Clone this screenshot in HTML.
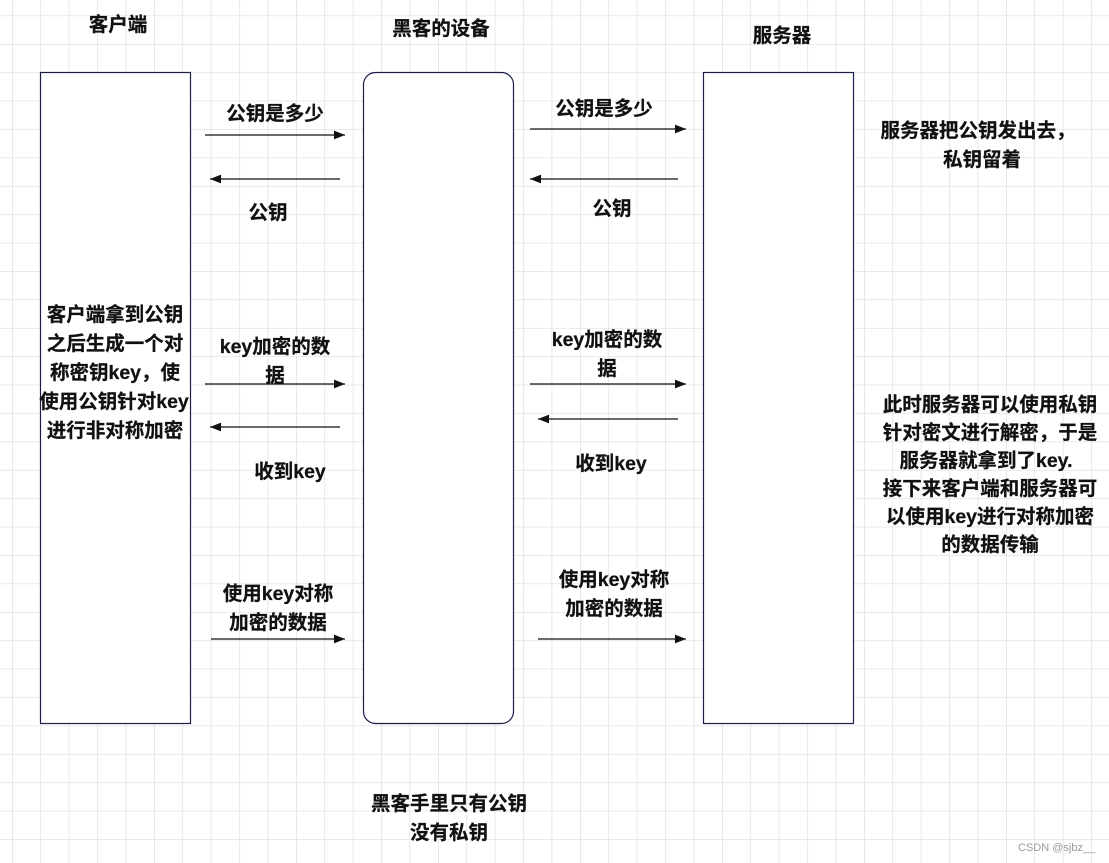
<!DOCTYPE html>
<html><head><meta charset="utf-8"><style>
html,body{margin:0;padding:0;width:1109px;height:863px;overflow:hidden;background:#fff}
svg{display:block}
text{font-family:"Liberation Sans","Noto Sans CJK SC",sans-serif;font-weight:bold;font-size:19.5px;fill:#111;stroke:#111;stroke-width:0.25}
</style></head><body>
<svg width="1109" height="863" xmlns="http://www.w3.org/2000/svg">
<defs>
<pattern id="g" x="12" y="15.5" width="28.4" height="28.4" patternUnits="userSpaceOnUse">
<path d="M0 0H28.4M0 0V28.4" stroke="#dcdcdc" stroke-width="1.3" fill="none"/>
</pattern>
<marker id="a" viewBox="0 0 10 10" refX="10" refY="5" markerWidth="11" markerHeight="11" markerUnits="userSpaceOnUse" orient="auto"><path d="M0 1L10 5L0 9z" fill="#111"/></marker>
</defs>
<rect width="1109" height="863" fill="url(#g)"/>
<rect x="40.5" y="72.5" width="150" height="651" fill="#fff" stroke="#1a1f4a" stroke-width="1.2"/>
<rect x="363.5" y="72.5" width="150" height="651" rx="12" fill="#fff" stroke="#1a1f4a" stroke-width="1.2"/>
<rect x="703.5" y="72.5" width="150" height="651" fill="#fff" stroke="#1a1f4a" stroke-width="1.2"/>
<g stroke="#111" stroke-width="1.2" marker-end="url(#a)">
<line x1="205" y1="135" x2="345" y2="135"/>
<line x1="340" y1="179" x2="210" y2="179"/>
<line x1="205" y1="384" x2="345" y2="384"/>
<line x1="340" y1="427" x2="210" y2="427"/>
<line x1="211" y1="639" x2="345" y2="639"/>
<line x1="530" y1="129" x2="686" y2="129"/>
<line x1="678" y1="179" x2="530" y2="179"/>
<line x1="530" y1="384" x2="686" y2="384"/>
<line x1="678" y1="419" x2="538" y2="419"/>
<line x1="538" y1="639" x2="686" y2="639"/>
</g>
<g text-anchor="middle">
<text x="118" y="31">客户端</text>
<text x="441" y="35">黑客的设备</text>
<text x="782" y="42">服务器</text>
<text x="275" y="120">公钥是多少</text>
<text x="268" y="219">公钥</text>
<text x="275" y="353">key加密的数</text>
<text x="275" y="382">据</text>
<text x="290" y="478">收到key</text>
<text x="278" y="600">使用key对称</text>
<text x="278" y="629">加密的数据</text>
<text x="604" y="115">公钥是多少</text>
<text x="612" y="215">公钥</text>
<text x="607" y="346">key加密的数</text>
<text x="607" y="375">据</text>
<text x="611" y="470">收到key</text>
<text x="614" y="586">使用key对称</text>
<text x="614" y="615">加密的数据</text>
<text x="115" y="321">客户端拿到公钥</text>
<text x="115" y="350">之后生成一个对</text>
<text x="115" y="379">称密钥key，使</text>
<text x="114" y="408">使用公钥针对key</text>
<text x="115" y="437">进行非对称加密</text>
<text x="978" y="137">服务器把公钥发出去，</text>
<text x="982" y="166">私钥留着</text>
<text x="990" y="411">此时服务器可以使用私钥</text>
<text x="990" y="439">针对密文进行解密，于是</text>
<text x="986" y="467">服务器就拿到了key.</text>
<text x="990" y="495">接下来客户端和服务器可</text>
<text x="990" y="523">以使用key进行对称加密</text>
<text x="990" y="551">的数据传输</text>
<text x="449" y="810">黑客手里只有公钥</text>
<text x="449" y="839">没有私钥</text>
</g>
<text x="1018" y="851" style="font-weight:normal;font-size:11px;fill:#999;stroke:none">CSDN @sjbz__</text>
</svg>
</body></html>
